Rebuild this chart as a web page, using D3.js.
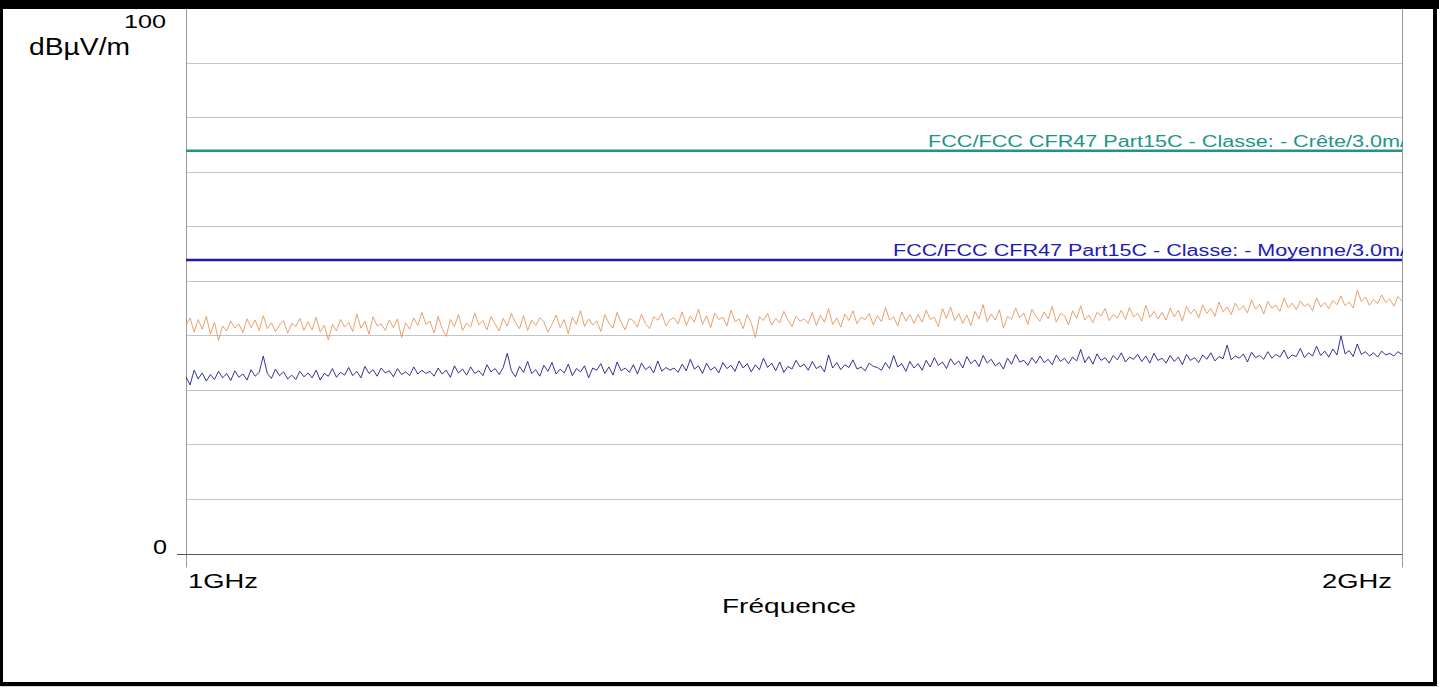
<!DOCTYPE html>
<html>
<head>
<meta charset="utf-8">
<script src="https://cdn.jsdelivr.net/npm/d3@7"></script>
<style>
  html, body { margin: 0; padding: 0; background: #fff; }
  svg { display: block; font-family: "Liberation Sans", Arial, sans-serif; }
</style>
</head>
<body>
<script>
// frequency sweep (MHz) and level axis (dBµV/m)
var freqRange = [1000, 2000];
var levelRange = [0, 100];
var gridLevels = [0, 10, 20, 30, 40, 50, 60, 70, 80, 90, 100];
var yTickLabels = ['0', '100'];
var xTickLabels = ['1GHz', '2GHz'];

// limit lines
var limitNames = ['FCC/FCC CFR47 Part15C - Classe: - Crête/3.0m/', 'FCC/FCC CFR47 Part15C - Classe: - Moyenne/3.0m/'];
var limitLevels = [74, 54];

var peakTrace = [
  41.8, 43.2, 40.6, 42.9, 41.1, 43.5, 40.2, 42.4, 39.1, 41.7, 40.8, 42.6, 41.3, 42.1, 40.5, 43.0, 41.4, 42.8, 40.9, 43.6,
  41.2, 42.3, 40.7, 41.9, 42.7, 40.4, 42.2, 41.6, 43.1, 40.9, 42.5, 41.0, 43.3, 40.6, 41.8, 39.2, 42.0, 40.8, 42.9, 41.5,
  42.4, 40.7, 43.9, 41.3, 42.6, 40.2, 43.4, 41.7, 42.1, 40.9, 42.8, 41.4, 43.0, 39.6, 42.3, 41.1, 43.2, 41.8, 44.2, 42.0,
  42.6, 40.4, 43.5, 41.2, 39.8, 42.9, 41.6, 43.8, 40.9, 42.2, 41.5, 44.1, 41.9, 42.7, 41.0, 43.4, 42.1, 40.8, 43.1, 41.7,
  44.0, 42.3, 41.2, 43.6, 40.9, 42.8, 41.8, 43.2, 42.5, 40.6, 42.0, 43.7, 41.4, 42.9, 40.3, 43.3, 42.0, 44.5, 41.6, 43.0,
  41.9, 42.6, 40.7, 43.8, 42.2, 41.3, 44.2, 42.4, 41.0, 43.1, 42.7, 41.5, 43.9, 42.1, 41.2, 43.4, 42.8, 44.0, 41.7, 42.9,
  43.2, 42.1, 44.3, 41.8, 43.5, 42.4, 44.8, 42.0, 43.6, 41.4, 44.1, 42.9, 43.3, 41.7, 44.6, 42.5, 43.0, 41.2, 43.8, 42.2,
  39.6, 43.4, 42.7, 44.0, 41.9, 43.1, 42.3, 44.4, 42.8, 41.6, 43.5, 42.6, 43.0, 42.2, 44.2, 41.8, 43.7, 42.4, 44.9, 42.0,
  43.2, 41.5, 43.9, 42.7, 44.5, 42.1, 43.3, 42.9, 44.0, 41.9, 43.6, 42.5, 45.1, 42.8, 43.4, 41.7, 44.3, 42.6, 43.8, 42.2,
  43.8, 42.4, 44.6, 42.9, 43.3, 41.6, 44.9, 43.1, 45.2, 42.7, 44.0, 42.2, 43.7, 41.8, 44.4, 43.0, 45.6, 42.5, 43.9, 42.8,
  44.7, 41.3, 43.5, 42.9, 45.0, 43.2, 44.1, 42.0, 44.8, 43.4, 42.6, 44.3, 43.0, 45.3, 42.4, 44.0, 43.6, 41.9, 44.5, 43.1,
  45.4, 42.8, 43.7, 42.3, 44.2, 43.5, 44.9, 42.7, 43.8, 43.2, 44.6, 42.9, 45.1, 43.4, 44.0, 42.6, 45.5, 43.3, 44.4, 43.0,
  44.2, 42.8, 45.0, 43.4, 44.6, 42.6, 45.3, 43.9, 44.8, 43.2, 45.6, 44.0, 44.9, 43.5, 46.1, 44.3, 45.2, 43.8, 45.9, 44.6,
  45.4, 44.1, 46.5, 44.8, 45.7, 43.9, 46.2, 45.0, 45.5, 44.4, 46.8, 45.1, 45.9, 44.7, 46.3, 45.3, 45.8, 44.5, 46.9, 45.2,
  46.0, 44.9, 46.4, 45.6, 47.2, 45.4, 46.1, 45.0, 48.3, 46.2, 47.0, 45.5, 46.6, 45.8, 47.4, 46.0, 46.7, 45.3, 47.1, 46.3
];

var avgTrace = [
  32.4, 30.9, 33.6, 32.0, 33.1, 31.6, 32.8, 31.9, 33.4, 32.2, 33.0, 31.7, 33.5, 32.3, 32.9, 31.8, 33.7, 32.5, 33.2, 36.2,
  33.0, 32.1, 33.8, 32.6, 33.3, 32.0, 32.7, 31.9, 33.4, 32.4, 33.1, 32.2, 33.6, 31.8, 33.0, 32.5, 33.9, 32.3, 33.2, 32.7,
  34.1, 32.6, 33.4, 32.2, 34.3, 33.0, 33.7, 32.5, 34.0, 33.1, 33.5, 32.4, 33.9, 32.8, 33.3, 32.6, 34.2, 32.9, 33.6, 33.0,
  33.4, 32.5, 34.0, 32.9, 33.6, 32.3, 34.4, 33.1, 33.8, 32.7, 34.2, 33.0, 33.5, 32.6, 34.6, 33.3, 33.9, 32.8, 34.1, 36.7,
  33.5, 32.4, 34.3, 33.2, 35.2, 33.0, 33.7, 32.5, 34.5, 33.4, 35.0, 32.9, 33.8, 33.1, 34.7, 32.6, 33.9, 33.3, 34.4, 32.2,
  34.0, 33.6, 34.8, 33.0, 34.2, 32.7, 35.1, 33.5, 34.0, 33.2, 34.6, 32.9, 34.9, 33.7, 34.3, 33.1, 35.3, 33.4, 34.1, 33.6,
  34.0, 33.2, 34.7, 33.5, 35.6, 33.8, 34.4, 33.0, 34.9, 33.6, 34.2, 33.1, 35.0, 33.9, 34.5, 33.4, 35.3, 34.0, 34.8, 33.3,
  34.6, 33.7, 35.8, 34.1, 34.9, 33.5, 35.1, 33.2, 34.3, 33.8, 35.4, 34.2, 34.7, 33.6, 35.2, 33.9, 34.4, 33.3, 36.4, 34.0,
  35.0, 33.7, 34.6, 34.1, 35.5, 33.8, 34.2, 33.5, 34.9, 34.3, 34.1, 33.6, 35.0, 33.9, 36.3, 34.2, 34.8, 33.4, 35.2, 34.0,
  34.8, 33.6, 35.4, 34.2, 35.9, 34.5, 35.1, 33.9, 35.7, 34.6, 35.3, 34.0, 36.1, 34.8, 35.5, 34.3, 36.3, 34.9, 35.6, 34.4,
  35.0, 33.8, 35.8, 34.7, 36.5, 35.1, 35.4, 34.5, 35.9, 34.9, 36.2, 35.0, 35.6, 34.6, 36.4, 35.2, 35.8, 34.8, 36.0, 35.3,
  37.4, 35.0, 36.1, 34.7, 36.6, 35.4, 35.9, 34.9, 36.3, 35.5, 36.8, 35.1, 36.0, 35.6, 36.5, 35.2, 36.2, 34.9, 36.7, 35.4,
  35.8, 34.9, 36.3, 35.2, 36.0, 34.6, 36.5, 35.4, 35.9, 35.0, 36.4, 35.6, 36.8, 35.3, 36.1, 35.7, 38.2, 35.5, 36.2, 35.8,
  36.6, 35.1, 36.9, 35.9, 36.3, 35.6, 37.0, 35.8, 36.5, 36.0, 37.3, 35.7, 36.4, 36.1, 37.6, 35.9, 36.8, 36.2, 38.0, 36.3,
  37.1, 36.0, 37.5, 36.4, 39.9, 36.6, 37.2, 36.1, 38.4, 36.5, 37.0, 36.2, 36.8, 36.0, 37.1, 36.4, 36.7, 36.2, 37.0, 36.5
];

var W = 1439, H = 687;
var plot = {left: 186, right: 1402, top: 8, bottom: 553.5};

var svg = d3.select('body')
  .append('svg')
  .attr('width', W)
  .attr('height', H);

svg.append('rect').attr('width', W).attr('height', H).attr('fill', '#fff');

var xScale = d3.scaleLinear().domain(freqRange).range([plot.left, plot.right]);
var yScale = d3.scaleLinear().domain(levelRange).range([plot.bottom, plot.top]);

// gridlines
svg.append('g')
  .selectAll('line')
  .data(gridLevels.slice(1))
  .enter().append('line')
  .attr('x1', plot.left).attr('x2', plot.right)
  .attr('y1', function(d){ return Math.round(yScale(d)) + 0.5; })
  .attr('y2', function(d){ return Math.round(yScale(d)) + 0.5; })
  .attr('stroke', '#c4c4c4')
  .attr('stroke-width', 1);

// left and right frame lines, running a bit under the axis
svg.append('line')
  .attr('x1', plot.left + 0.5).attr('x2', plot.left + 0.5)
  .attr('y1', plot.top).attr('y2', plot.bottom + 14)
  .attr('stroke', '#9a9a9a');
svg.append('line')
  .attr('x1', plot.right + 0.5).attr('x2', plot.right + 0.5)
  .attr('y1', plot.top).attr('y2', plot.bottom + 14)
  .attr('stroke', '#9a9a9a');

// bottom axis
svg.append('line')
  .attr('x1', plot.left - 9).attr('x2', plot.right)
  .attr('y1', Math.round(yScale(0)) + 0.5).attr('y2', Math.round(yScale(0)) + 0.5)
  .attr('stroke', '#555');

svg.append('clipPath').attr('id', 'plotclip')
  .append('rect')
  .attr('x', plot.left).attr('y', plot.top)
  .attr('width', plot.right - plot.left + 1).attr('height', plot.bottom - plot.top);

var inner = svg.append('g').attr('clip-path', 'url(#plotclip)');

// traces
var xIndex = d3.scaleLinear().domain([0, peakTrace.length - 1]).range(freqRange);
var line = d3.line()
  .x(function(d, i){ return xScale(xIndex(i)); })
  .y(function(d){ return yScale(d); });

inner.append('path')
  .datum(peakTrace)
  .attr('d', line)
  .attr('fill', 'none')
  .attr('stroke', '#e8955c')
  .attr('stroke-width', 0.9);

var xIndex2 = d3.scaleLinear().domain([0, avgTrace.length - 1]).range(freqRange);
inner.append('path')
  .datum(avgTrace)
  .attr('d', d3.line()
    .x(function(d, i){ return xScale(xIndex2(i)); })
    .y(function(d){ return yScale(d); }))
  .attr('fill', 'none')
  .attr('stroke', '#1c1c8e')
  .attr('stroke-width', 0.9);

// limit lines and their names
var limitColors = ['#1f9488', '#1b1bb3'];
var limitTextStart = [928, 893];

limitLevels.forEach(function(lv, i){
  inner.append('line')
    .attr('x1', plot.left).attr('x2', plot.right)
    .attr('y1', yScale(lv) + 1).attr('y2', yScale(lv) + 1)
    .attr('stroke', limitColors[i])
    .attr('stroke-width', 2.5);
  inner.append('text')
    .attr('x', limitTextStart[i])
    .attr('y', yScale(lv) - 2.5)
    .attr('font-size', 16)
    .attr('fill', limitColors[i])
    .attr('textLength', plot.right + 4 - limitTextStart[i])
    .attr('lengthAdjust', 'spacingAndGlyphs')
    .text(limitNames[i]);
});

// y labels
svg.append('text')
  .attr('x', 166).attr('y', yScale(100) + 20)
  .attr('text-anchor', 'end')
  .attr('font-size', 19)
  .attr('textLength', 42).attr('lengthAdjust', 'spacingAndGlyphs')
  .text(yTickLabels[1]);
svg.append('text')
  .attr('x', 167).attr('y', yScale(0))
  .attr('text-anchor', 'end')
  .attr('font-size', 20)
  .attr('textLength', 14).attr('lengthAdjust', 'spacingAndGlyphs')
  .text(yTickLabels[0]);
svg.append('text')
  .attr('x', 29).attr('y', 55)
  .attr('font-size', 23)
  .attr('textLength', 101).attr('lengthAdjust', 'spacingAndGlyphs')
  .text('dBµV/m');

// x labels
svg.append('text')
  .attr('x', xScale(freqRange[0]) + 2).attr('y', 588)
  .attr('font-size', 21)
  .attr('textLength', 70).attr('lengthAdjust', 'spacingAndGlyphs')
  .text(xTickLabels[0]);
svg.append('text')
  .attr('x', xScale(freqRange[1]) - 80).attr('y', 588)
  .attr('font-size', 21)
  .attr('textLength', 70).attr('lengthAdjust', 'spacingAndGlyphs')
  .text(xTickLabels[1]);
svg.append('text')
  .attr('x', 722).attr('y', 613)
  .attr('font-size', 21)
  .attr('textLength', 134).attr('lengthAdjust', 'spacingAndGlyphs')
  .text('Fréquence');

// black outer frame
svg.append('rect').attr('x', 0).attr('y', 0).attr('width', W).attr('height', 9).attr('fill', '#000');
svg.append('rect').attr('x', 0).attr('y', 0).attr('width', 3).attr('height', 686).attr('fill', '#000');
svg.append('rect').attr('x', 1433).attr('y', 0).attr('width', 4).attr('height', 686).attr('fill', '#000');
svg.append('rect').attr('x', 0).attr('y', 682).attr('width', 1437).attr('height', 4).attr('fill', '#000');
svg.append('rect').attr('x', 0).attr('y', 686).attr('width', W).attr('height', 1).attr('fill', '#d6d6d6');
</script>
</body>
</html>
